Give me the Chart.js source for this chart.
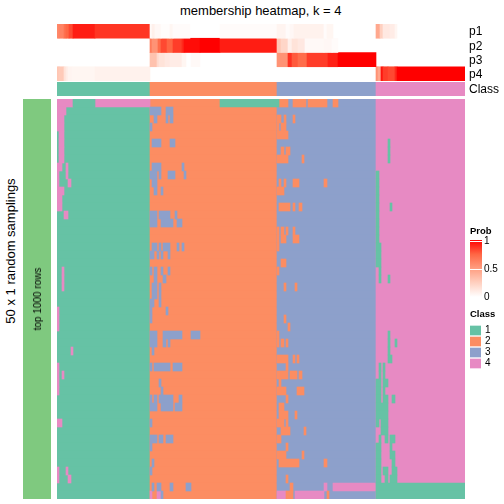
<!DOCTYPE html>
<html>
<head>
<meta charset="utf-8">
<script src="https://cdn.jsdelivr.net/npm/chart.js@4"></script>
<style>
  body { margin: 0; background: #fff; font-family: "Liberation Sans", sans-serif; color: #000; }
  canvas { position: absolute; display: block; }
  .txt { position: absolute; white-space: nowrap; line-height: 1; z-index: 2; }
  .rot { transform: translate(-50%, -50%) rotate(-90deg); }
</style>
</head>
<body>
<div class="txt" style="left:180px;top:4px;font-size:13px">membership heatmap, k = 4</div>
<div class="txt rot" style="left:10px;top:251px;font-size:13px">50 x 1 random samplings</div>
<div class="txt rot" style="left:38px;top:299px;font-size:10px">top 1000 rows</div>
<div class="txt" style="left:470px;top:226px;font-size:9.5px;font-weight:bold">Prob</div>
<div class="txt" style="left:470px;top:309px;font-size:9.5px;font-weight:bold">Class</div>
<canvas id="probRows" width="447" height="57" style="left:57px;top:24px"></canvas>
<canvas id="classRow" width="447" height="16" style="left:57px;top:81px"></canvas>
<canvas id="heat" width="408" height="400" style="left:57px;top:99px"></canvas>
<canvas id="side" width="28" height="400" style="left:23px;top:99px"></canvas>
<canvas id="probLegend" width="34" height="68" style="left:470px;top:234px"></canvas>
<canvas id="classLegend" width="33" height="44" style="left:470px;top:325px"></canvas>
<script>
// positions along the sample axis are 0..408, rows are 0..49 from the top
const classColors = { 1: '#66C2A5', 2: '#FC8D62', 3: '#8DA0CB', 4: '#E78AC3' };
const classBands = [[1, 0, 93], [2, 93, 220], [3, 220, 319], [4, 319, 408]];

// [value, start, end]
const p1 = [[.6,0,2],[.62,2,7],[.7,7,9],[.75,9,12],[.82,12,16],[.93,16,38],[.87,38,93],
  [.03,93,95],[.08,95,98],[.04,98,104],[.01,104,113],[.05,113,116],[.02,116,133],[.02,163,220],
  [.06,220,229],[.02,229,233],[.04,233,237],[.07,237,267],[.02,267,270],[.05,270,276],
  [.45,319,323],[.25,323,326],[.12,326,333],[.1,333,338],[.05,338,340]];
const p2 = [[.65,93,95],[.55,95,101],[.72,101,104],[.82,104,110],[.75,110,116],[.85,116,125],[.9,125,127],
  [.97,127,143],[1,143,163],[.93,163,220],
  [.3,220,224],[.22,224,231],[.08,231,235],[.15,235,241],[.12,241,248],[.03,248,267],[.04,267,275],[.02,275,281]];
const p3 = [[.32,93,100],[.2,100,102],[.15,102,108],[.12,108,113],[.1,113,125],[.05,125,129],[.03,134,143],
  [.55,220,231],[.88,231,235],[.78,235,241],[.72,241,250],[.85,250,271],[.92,271,281],[1,281,319]];
const p4 = [[.3,0,2],[.28,2,7],[.15,7,9],[.1,9,11],[.06,11,15],[.05,15,38],[.07,38,93],
  [.55,319,321],[.45,321,324],[.95,324,326],[.85,326,331],[.82,331,338],[.9,338,340],[1,340,408]];

// cells that differ from their column's class: [row, start, end]
const class1Cells = [[0,16,38],[0,163,222],[5,331,333],[6,331,333],[7,331,333],
  [9,319,322],[10,319,322],[11,319,322],[12,319,322],[13,319,322],[13,333,335],[14,319,322],[15,319,322],[16,319,322],[17,319,322],
  [18,319,324],[19,319,324],[20,319,324],[21,322,324],[22,322,324],[22,331,333],
  [29,331,333],[30,331,333],[30,338,340],[31,331,333],[32,331,335],[33,322,324],[33,326,328],[34,322,324],[34,326,328],
  [35,319,324],[35,326,331],[36,319,324],[36,326,328],[37,319,324],[37,326,331],[37,335,338],
  [38,319,331],[39,319,331],[40,319,322],[40,324,331],[41,324,331],[42,322,324],[42,328,331],[42,333,338],
  [43,319,324],[43,333,335],[44,319,324],[44,333,338],[45,319,324],[45,335,338],
  [46,319,324],[46,326,331],[46,335,340],[47,319,324],[47,328,331],[47,333,340],[48,319,408],[49,319,408]];
const class2Cells = [[0,222,231],[0,236,249],[0,251,270],[0,276,281],
  [2,220,224],[2,227,229],[2,236,238],[3,220,222],[3,224,229],[4,220,231],[6,224,227],[6,229,233],[7,220,231],[7,245,247],
  [10,222,224],[10,227,229],[10,236,242],[10,267,270],[11,220,227],[13,222,233],[13,236,238],[13,242,245],
  [16,220,222],[16,224,227],[16,229,231],[16,236,238],[17,220,222],[17,224,229],[17,236,242],[18,220,222],
  [20,224,229],[21,220,222],[23,227,229],[23,238,240],[27,227,229],[28,231,233],[29,220,222],
  [30,220,222],[30,224,227],[30,229,231],[32,220,231],[32,236,238],[32,240,242],[33,229,231],
  [34,220,231],[34,233,240],[34,242,245],[35,222,224],[36,220,229],[36,240,247],[37,229,231],[38,222,227],
  [39,222,231],[39,238,240],[40,220,227],[40,229,231],[41,224,233],[41,247,249],[42,220,224],[43,229,231],
  [44,220,229],[44,245,247],[45,222,242],[45,267,270],[47,229,231],[48,233,236],[49,229,236],[49,270,272]];
const class3Cells = [[1,93,104],[1,109,116],[2,97,100],[2,109,111],[2,113,116],[3,93,95],[5,95,104],[5,113,118],
  [8,95,104],[8,125,127],[9,93,100],[9,102,104],[9,111,118],[9,127,129],[10,95,100],[11,97,100],[11,104,106],
  [14,93,100],[14,102,113],[14,118,120],[15,93,100],[15,104,116],[15,120,125],
  [18,95,100],[18,102,104],[18,106,113],[18,120,122],[18,125,127],[19,93,97],[19,100,102],[19,104,106],[19,111,113],
  [21,93,95],[21,97,100],[21,104,106],[21,111,113],[22,97,100],[22,106,109],[23,95,100],[23,102,104],[24,95,100],[24,102,104],
  [25,93,97],[25,102,104],[26,93,95],[26,109,111],[27,93,95],
  [29,93,100],[29,106,125],[29,134,143],[30,93,100],[30,106,109],[30,111,113],[31,95,97],
  [33,93,95],[33,97,113],[33,116,125],[35,102,104],[36,104,106],
  [37,93,95],[37,97,100],[37,102,116],[37,122,125],[38,93,100],[38,104,116],[38,118,125],[40,93,95],
  [42,93,100],[42,102,106],[42,109,116],[43,93,95],[45,95,97],[46,93,95],
  [48,95,97],[48,100,104],[48,113,116],[48,129,134],[49,104,106]];
const class4Cells = [[0,0,16],[0,38,93],[1,0,9],[2,0,7],[3,0,7],[4,2,7],[5,2,7],[6,2,7],[7,2,7],
  [8,0,5],[8,9,11],[9,0,2],[9,9,11],[10,0,2],[10,11,14],[11,0,7],[12,0,5],[13,0,5],[14,7,11],
  [21,5,7],[22,5,7],[23,5,7],[26,0,2],[27,0,2],[28,0,2],[31,14,16],
  [33,0,2],[34,0,2],[34,5,7],[35,0,2],[36,0,2],[40,0,5],[46,0,2],[46,9,11],[47,0,2],[47,11,14],
  [48,267,270],[48,276,319],[49,93,95],[49,100,104],[49,220,229],[49,238,267]];

const probNames = ['p1', 'p2', 'p3', 'p4'];
const rowNames = Array.from({ length: 50 }, (_, i) => String(i));
const classNames = ['1', '2', '3', '4'];
const sideColor = '#7FC97F';
const rampStops = [[0, 255, 255, 255], [0.25, 255, 208, 192], [0.5, 255, 158, 129], [0.75, 255, 102, 68], [1, 255, 0, 0]];
const font = 'Liberation Sans';

function probColor(v) {
  for (let i = 1; i < rampStops.length; i++) {
    if (v <= rampStops[i][0]) {
      const a = rampStops[i - 1], b = rampStops[i];
      const t = (v - a[0]) / (b[0] - a[0]);
      return `rgb(${a[1]}, ${Math.round(a[2] + (b[2] - a[2]) * t)}, ${Math.round(a[3] + (b[3] - a[3]) * t)})`;
    }
  }
  return 'rgb(255, 0, 0)';
}

// keeps the labels from eating into the plot area
function fitRight(width) {
  return (s) => {
    s.width = width;
    s.paddingTop = 0;
    s.paddingBottom = 0;
  };
}

const hiddenX = { type: 'linear', min: 0, max: 408, display: false };
const barOpts = { categoryPercentage: 1, barPercentage: 1, borderWidth: 0, grouped: false };

function rightLabels(width, size) {
  return {
    position: 'right',
    afterFit: fitRight(width),
    grid: { display: false, drawTicks: false },
    border: { display: false },
    ticks: { color: '#000', padding: 4, autoSkip: false, labelOffset: 1, font: { family: font, size: size } },
  };
}

function base(scales, indexAxis = 'y') {
  return {
    indexAxis: indexAxis,
    responsive: false,
    animation: false,
    events: [],
    layout: { padding: 0 },
    plugins: { legend: { display: false }, tooltip: { enabled: false } },
    scales: scales,
  };
}

new Chart(document.getElementById('probRows'), {
  type: 'bar',
  data: {
    labels: probNames,
    datasets: [p1, p2, p3, p4].map((runs, i) => ({
      ...barOpts,
      data: runs.map((r) => ({ x: [r[1], r[2]], y: probNames[i] })),
      backgroundColor: runs.map((r) => probColor(r[0])),
    })),
  },
  options: base({ x: hiddenX, y: rightLabels(39, 12) }),
});

new Chart(document.getElementById('classRow'), {
  type: 'bar',
  data: {
    labels: ['Class'],
    datasets: [{
      ...barOpts,
      data: classBands.map((b) => ({ x: [b[1], b[2]], y: 'Class' })),
      backgroundColor: classBands.map((b) => classColors[b[0]]),
    }],
  },
  options: { ...base({ x: hiddenX, y: rightLabels(39, 12) }), layout: { padding: { top: 1, bottom: 1 } } },
});

// bands go underneath, the differing cells on top of them
const bandData = [];
classBands.forEach((b) => rowNames.forEach((r) => bandData.push({ x: [b[1], b[2]], y: r, c: b[0] })));
const cellSets = [[1, class1Cells], [2, class2Cells], [3, class3Cells], [4, class4Cells]];

new Chart(document.getElementById('heat'), {
  type: 'bar',
  data: {
    labels: rowNames,
    datasets: [
      ...cellSets.map(([c, cells]) => ({
        ...barOpts,
        order: 1,
        data: cells.map((r) => ({ x: [r[1], r[2]], y: String(r[0]) })),
        backgroundColor: classColors[c],
      })),
      {
        ...barOpts,
        order: 2,
        data: bandData,
        backgroundColor: bandData.map((d) => classColors[d.c]),
      },
    ],
  },
  options: base({ x: hiddenX, y: { display: false } }),
});

new Chart(document.getElementById('side'), {
  type: 'bar',
  data: { labels: ['rows'], datasets: [{ ...barOpts, data: [1], backgroundColor: sideColor }] },
  options: base({ x: { display: false }, y: { display: false, min: 0, max: 1 } }, 'x'),
});

new Chart(document.getElementById('probLegend'), {
  type: 'bar',
  data: {
    labels: ['Prob'],
    datasets: [{
      ...barOpts,
      data: [[0, 1.03]],
      backgroundColor: (c) => {
        const area = c.chart.chartArea;
        if (!area) return '#fff';
        const g = c.chart.ctx.createLinearGradient(0, area.bottom, 0, area.top);
        rampStops.forEach((s) => g.addColorStop(s[0], probColor(s[0])));
        return g;
      },
    }],
  },
  options: {
    ...base({
      x: { display: false },
      y: {
        min: 0,
        max: 1.03,
        position: 'right',
        afterFit: fitRight(22),
        afterBuildTicks: (s) => { s.ticks = [{ value: 0 }, { value: 0.5 }, { value: 1 }]; },
        border: { display: false },
        grid: { color: '#fff', z: 1, drawTicks: false },
        ticks: { color: '#000', padding: 2, font: { family: font, size: 10 }, callback: (v) => String(v) },
      },
    }, 'x'),
    layout: { padding: { top: 6, bottom: 5 } },
  },
});

new Chart(document.getElementById('classLegend'), {
  type: 'bar',
  data: {
    labels: classNames,
    datasets: [{
      ...barOpts,
      barPercentage: 0.88,
      data: classNames.map(() => 1),
      backgroundColor: classNames.map((c) => classColors[c]),
    }],
  },
  options: base({ x: { display: false, min: 0, max: 1 }, y: { ...rightLabels(22, 10), ticks: { color: '#000', padding: 4, autoSkip: false, font: { family: font, size: 10 } } } }),
});
</script>
</body>
</html>
